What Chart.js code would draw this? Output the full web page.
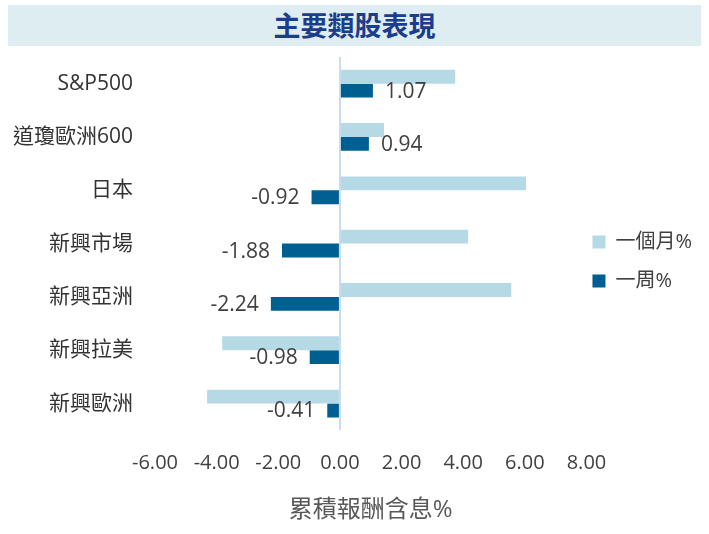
<!DOCTYPE html>
<html>
<head>
<meta charset="utf-8">
<script src="https://cdn.jsdelivr.net/npm/chart.js@4"></script>
<style>
    html, body { margin: 0; padding: 0; background: #fff; }
    #wrap { position: relative; width: 709px; height: 534px; }
    #title {
        position: absolute; left: 8px; top: 5px; width: 693px; height: 41px;
        background: #deedf1; color: #1b3d8b; text-align: center; line-height: 41px;
        font: bold 27px 'Noto Sans CJK TC', sans-serif;
    }
    canvas { position: absolute; left: 0; top: 0; }
</style>
</head>
<body>
<div id="wrap">
    <div id="title">主要類股表現</div>
    <canvas id="chart" width="709" height="534"></canvas>
</div>
<script>
// data
const categories = ['S&P500', '道瓊歐洲600', '日本', '新興市場', '新興亞洲', '新興拉美', '新興歐洲'];
const monthReturns = [3.74, 1.43, 6.04, 4.16, 5.56, -3.82, -4.31];
const weekReturns = [1.07, 0.94, -0.92, -1.88, -2.24, -0.98, -0.41];
const seriesNames = ['一個月%', '一周%'];
const xTicks = [-6, -4, -2, 0, 2, 4, 6, 8];
const axisTitle = '累積報酬含息%';

const FONT = "'Open Sans', 'Noto Sans CJK TC', sans-serif";

// value labels next to the weekly bars
const weekLabels = {
    id: 'weekLabels',
    afterDatasetsDraw(chart) {
        const ctx = chart.ctx;
        const meta = chart.getDatasetMeta(1);
        ctx.save();
        ctx.font = '21px ' + FONT;
        ctx.fillStyle = '#404040';
        ctx.textBaseline = 'middle';
        meta.data.forEach(function(bar, i) {
            const v = weekReturns[i];
            const neg = v < 0;
            ctx.textAlign = neg ? 'right' : 'left';
            ctx.fillText(v.toFixed(2), bar.x + (neg ? -12 : 12), bar.y + 1);
        });
        ctx.restore();
    }
};

// nudge the legend up/left so it sits next to the middle rows
const legendShift = {
    id: 'legendShift',
    afterLayout(chart) {
        const lg = chart.legend;
        lg.top -= 32; lg.bottom -= 32;
        lg.left -= 13; lg.right -= 13;
    }
};

document.addEventListener('DOMContentLoaded', function() {
    const ctx = document.getElementById('chart').getContext('2d');
    new Chart(ctx, {
        type: 'bar',
        data: {
            labels: categories,
            datasets: [{
                label: seriesNames[0],
                data: monthReturns,
                backgroundColor: '#b6dae5',
                borderWidth: 0
            }, {
                label: seriesNames[1],
                data: weekReturns,
                backgroundColor: '#005f91',
                borderWidth: 0
            }]
        },
        options: {
            indexAxis: 'y',
            responsive: false,
            animation: false,
            categoryPercentage: 0.52,
            barPercentage: 1,
            layout: { padding: { top: 57, left: 8, right: -6, bottom: 4 } },
            plugins: {
                tooltip: { enabled: false },
                legend: {
                    position: 'right',
                    labels: {
                        boxWidth: 13,
                        boxHeight: 13,
                        padding: 19,
                        color: '#404040',
                        font: { family: FONT, size: 20 }
                    }
                }
            },
            scales: {
                x: {
                    min: xTicks[0],
                    max: xTicks[xTicks.length - 1],
                    afterBuildTicks: function(scale) {
                        scale.ticks = xTicks.map(function(v) { return { value: v }; });
                    },
                    ticks: {
                        callback: function(v) { return Number(v).toFixed(2); },
                        color: '#404040',
                        padding: 21,
                        maxRotation: 0,
                        font: { family: FONT, size: 20 }
                    },
                    grid: {
                        drawTicks: false,
                        lineWidth: 2,
                        color: function(c) { return c.tick && c.tick.value === 0 ? '#c9dcf0' : 'rgba(0,0,0,0)'; }
                    },
                    border: { display: false },
                    title: {
                        display: true,
                        text: axisTitle,
                        color: '#595959',
                        padding: { top: 0, bottom: 5 },
                        font: { family: FONT, size: 24 }
                    }
                },
                y: {
                    afterFit: function(scale) { scale.width = 147; },
                    ticks: {
                        color: '#333333',
                        padding: 22,
                        font: { family: FONT, size: 21 }
                    },
                    grid: { display: false, drawTicks: false },
                    border: { display: false }
                }
            }
        },
        plugins: [weekLabels, legendShift]
    });
});
</script>
</body>
</html>
